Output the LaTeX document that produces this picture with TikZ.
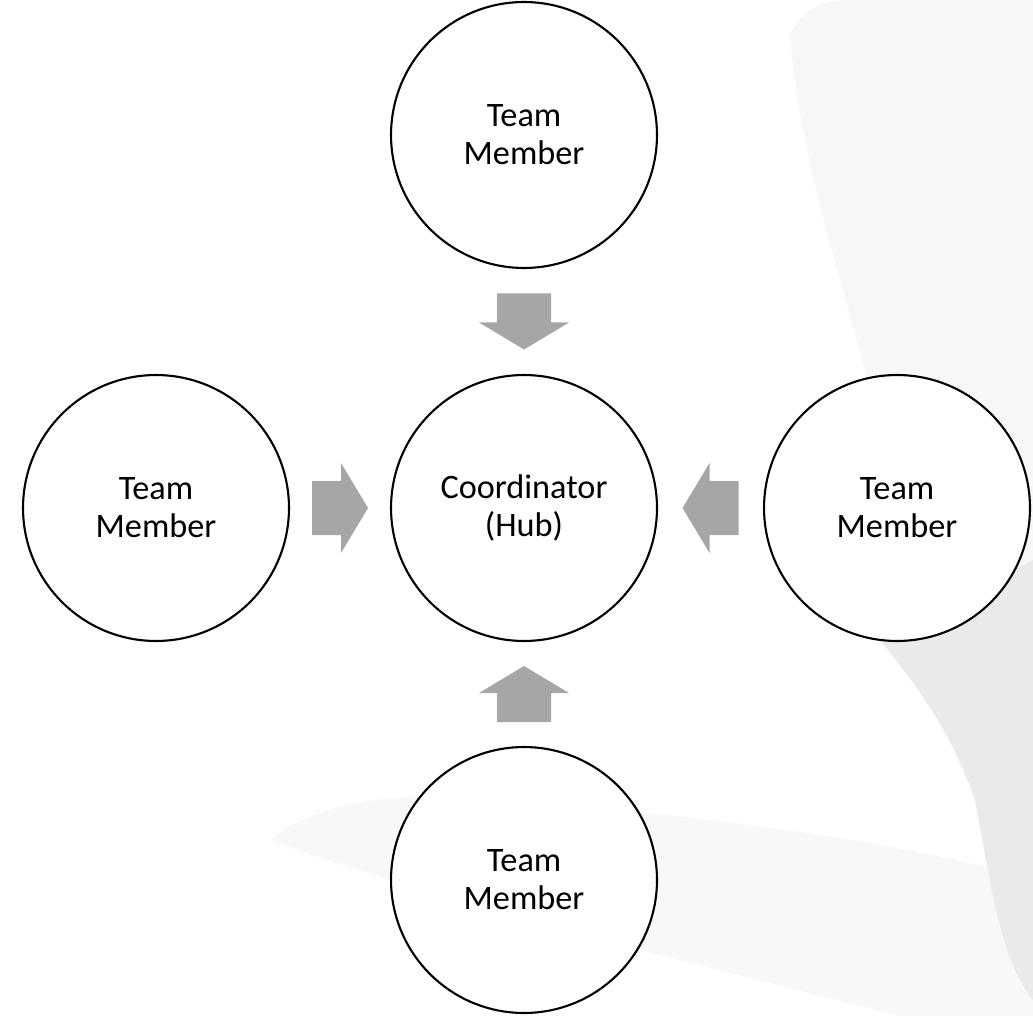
\documentclass[tikz,border=0pt]{standalone}
\usepackage{fontspec}
\setmainfont{Carlito}
\usetikzlibrary{calc}
\definecolor{pijlgrijs}{RGB}{166,166,166}
\definecolor{veerlicht}{RGB}{246,247,249}
\definecolor{veergrijs}{RGB}{234,234,234}
\definecolor{veerzacht}{RGB}{248,248,248}

\begin{document}
\begin{tikzpicture}[x=0.02cm, y=-0.02cm, line join=round,
		font=\fontsize{19.5}{21.5}\selectfont,
		lid/.style={circle, draw, line width=1.2pt, fill=white, minimum size=5.32cm, inner sep=0pt, align=center},
		pijl/.style={fill=pijlgrijs}]
		\useasboundingbox (0,0) rectangle (1033,1016);
		
		% 1. Watermerk (veer) op de achtergrond
		\fill[veerlicht] (790,36) .. controls (800,12) and (820,0) .. (850,0) -- (1033,0) -- (1033,760)
			.. controls (985,620) and (905,490) .. (867,380) .. controls (840,270) and (800,160) .. cycle;
		\fill[veerzacht] (270,840) .. controls (320,800) and (400,790) .. (500,800)
			.. controls (700,815) and (900,840) .. (1033,880) -- (1033,1016) -- (900,1016)
			.. controls (700,965) and (450,905) .. cycle;
		\fill[veergrijs] (880,640) -- (1033,560) -- (1033,1000)
			.. controls (1000,960) and (990,880) .. (975,800) .. controls (950,730) and (920,690) .. cycle;
		
		% 2. Cirkels: coördinator in het midden, vier teamleden eromheen
		\node[lid] (hub) at (524,508) {Coordinator\\(Hub)};
		\foreach \n/\x/\y in {mN/524/135, mW/156/508, mE/897/508, mS/524/880}
			\node[lid] (\n) at (\x,\y) {Team\\Member};
		
		% 3. Blokpijlen naar de hub
		\foreach \n/\hoek in {mN/-90, mW/0, mE/180, mS/90}
			\fill[pijl, shift={($(\n)!0.5!(hub)$)}, rotate=\hoek]
				(-28,-27) -- (1,-27) -- (1,-45) -- (28,0) -- (1,45) -- (1,27) -- (-28,27) -- cycle;
	\end{tikzpicture}
\end{document}
